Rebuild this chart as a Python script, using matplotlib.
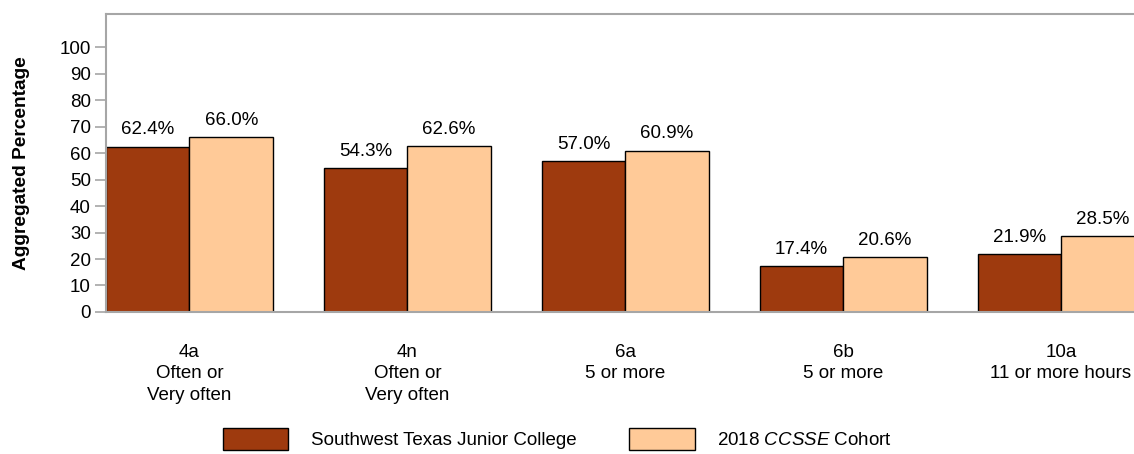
import numpy as np
import matplotlib.pyplot as plt

plt.rcParams['font.family'] = ['Liberation Sans', 'DejaVu Sans']
plt.rcParams['mathtext.fontset'] = 'custom'
plt.rcParams['mathtext.it'] = 'Liberation Sans:italic'
plt.rcParams['mathtext.rm'] = 'Liberation Sans'

# data
categories = ['4a\nOften or\nVery often', '4n\nOften or\nVery often', '6a\n5 or more',
              '6b\n5 or more', '10a\n11 or more hours']
college = [62.4, 54.3, 57.0, 17.4, 21.9]
cohort = [66.0, 62.6, 60.9, 20.6, 28.5]
series_names = ['Southwest Texas Junior College', '2018 $\\it{CCSSE}$ Cohort']
yticks = list(range(0, 101, 10))

dark = '#9E3A0E'
light = '#FFCA98'
grey = '#A6A6A6'
fs = 13.5

fig = plt.figure(figsize=(11.34, 4.54), dpi=100)
ax = fig.add_axes([0.0935, 0.3128, 0.9065, 0.6564])

x = np.arange(len(categories))
w = 0.383
b1 = ax.bar(x - w / 2, college, w, color=dark, edgecolor='black', linewidth=1, label=series_names[0])
b2 = ax.bar(x + w / 2, cohort, w, color=light, edgecolor='black', linewidth=1, label=series_names[1])

for xs, vals in ((x - w / 2, college), (x + w / 2, cohort)):
    for xi, v in zip(xs, vals):
        ax.annotate(f'{v:.1f}%', (xi, v), xytext=(0, 6), textcoords='offset points',
                    ha='center', va='bottom', fontsize=fs)

ax.set_xlim(-w, 4.335)
ax.set_ylim(0, 112.5)
ax.set_yticks(yticks)
ax.set_xticks(x)
ax.set_xticklabels(categories, fontsize=fs, linespacing=1.33)
ax.tick_params(axis='x', length=0, pad=23)
ax.tick_params(axis='y', length=8, color=grey, labelsize=fs, pad=3, width=1.2)
for s in ['left', 'top', 'bottom']:
    ax.spines[s].set_color(grey)
    ax.spines[s].set_linewidth(1.5)
ax.spines['right'].set_visible(False)

ax.set_ylabel('Aggregated Percentage', fontsize=13.8, fontweight='bold', labelpad=21)

fig.legend(handles=[b1, b2], loc='center', bbox_to_anchor=(0.4915, 0.033), ncol=2, frameon=False,
           fontsize=fs, handlelength=3.5, handleheight=1.45, handletextpad=1.2, columnspacing=2.8)

fig.savefig('out.png', dpi=100)
